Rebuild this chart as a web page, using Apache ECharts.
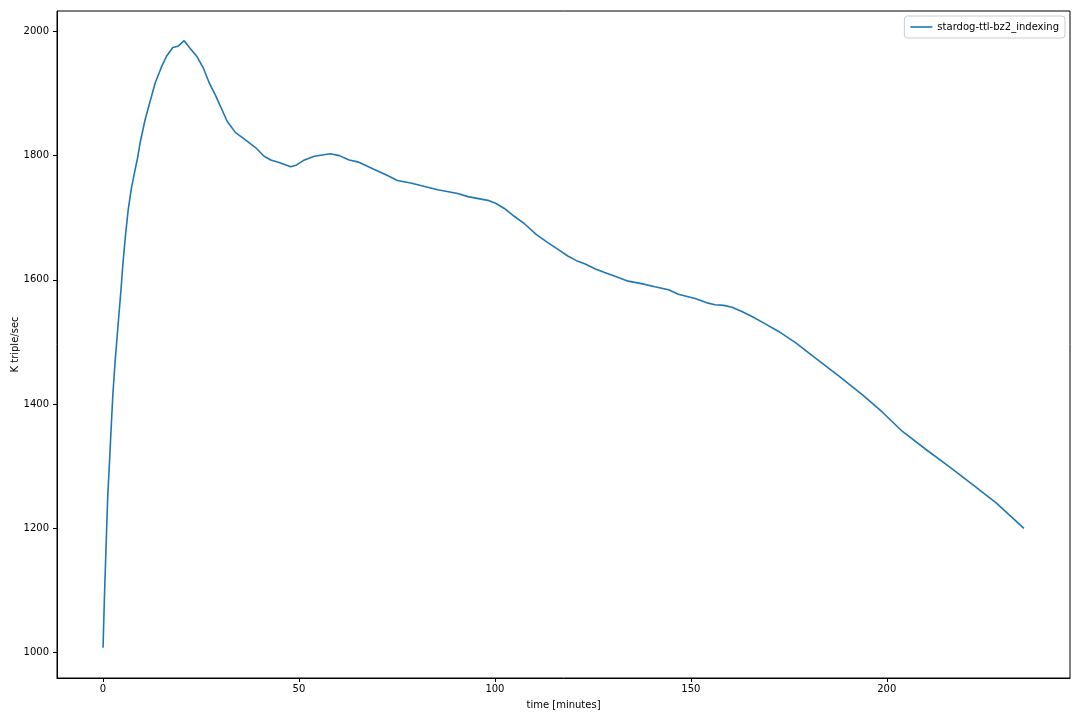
<!DOCTYPE html>
<html>
<head>
<meta charset="utf-8">
<script src="https://cdn.jsdelivr.net/npm/echarts@6/dist/echarts.min.js"></script>
<style>
html,body{margin:0;padding:0;background:#fff;}
#chart{width:1080px;height:720px;}
</style>
</head>
<body>
<div id="chart"></div>
<script>
const seriesName = 'stardog-ttl-bz2_indexing';
const times = [0, 0.36, 0.77, 1.2, 1.64, 2.05, 2.48, 3.1, 3.8, 4.5, 5.1, 5.7, 6.4, 7.2, 8.0, 8.8, 9.5, 10.7, 12.0, 13.3, 15.0, 16.2, 17.8, 19.1, 20.7, 22.2, 23.9, 25.6, 27.1, 28.7, 31.7, 33.8, 36.0, 38.9, 41.1, 42.8, 44.9, 47.9, 49.4, 51.1, 53.9, 58.0, 60.3, 62.8, 65.0, 69.1, 72.6, 75.1, 78.5, 85.4, 90.5, 93.1, 98.2, 100.3, 102.4, 105.0, 107.6, 110.6, 113.5, 116.1, 118.7, 120.8, 122.9, 125.5, 128.0, 131.5, 134.0, 137.4, 140.8, 144.3, 146.8, 151.1, 154.1, 156.2, 158.4, 160.5, 163.0, 165.6, 168.2, 172.4, 176.7, 181.8, 187.8, 193.8, 198.9, 204.0, 210.0, 216.0, 222.0, 227.9, 235.0];
const rates = [1008, 1091, 1171, 1252, 1306, 1359, 1413, 1470, 1525, 1578, 1628, 1670, 1712, 1746, 1772, 1796, 1822, 1857, 1887, 1917, 1944, 1960, 1974, 1976, 1985, 1973, 1960, 1941, 1917, 1897, 1855, 1837, 1827, 1813, 1799, 1793, 1789, 1782, 1785, 1792, 1799, 1803, 1800, 1793, 1790, 1778, 1768, 1760, 1756, 1745, 1739, 1734, 1728, 1723, 1715, 1702, 1690, 1673, 1660, 1649, 1638, 1631, 1626, 1618, 1612, 1604, 1598, 1594, 1589, 1584, 1577, 1570, 1563, 1560, 1559, 1556, 1549, 1541, 1532, 1517, 1499, 1474, 1445, 1415, 1387, 1356, 1327, 1299, 1270, 1241, 1200];
const xTicks = [0, 50, 100, 150, 200];
const yTicks = [1000, 1200, 1400, 1600, 1800, 2000];

const points = times.map((t, i) => [t, rates[i]]);
const font = 'DejaVu Sans';
const chart = echarts.init(document.getElementById('chart'), null, {renderer: 'canvas'});
chart.setOption({
  animation: false,
  backgroundColor: '#fff',
  textStyle: {fontFamily: font},
  grid: {left: 57, right: 10, top: 11, bottom: 42, containLabel: false, outerBoundsMode: 'none', show: true, borderColor: '#000', borderWidth: 1, backgroundColor: 'transparent'},
  legend: {
    top: 16, right: 15,
    data: [{name: seriesName, icon: 'rect'}],
    itemWidth: 22, itemHeight: 1.6, itemGap: 6,
    padding: [6, 6, 6, 6],
    borderColor: '#ccc', borderWidth: 1, borderRadius: 3,
    backgroundColor: '#fff',
    textStyle: {fontFamily: font, fontSize: 10, color: '#000'}
  },
  xAxis: {
    type: 'value', min: -11.75, max: 246.75,
    name: 'time [minutes]', nameLocation: 'middle', nameGap: 22, nameMoveOverlap: false,
    nameTextStyle: {fontFamily: font, fontSize: 10, color: '#000'},
    axisLine: {show: true, onZero: false, lineStyle: {color: '#000', width: 1}},
    axisTick: {show: true, customValues: xTicks, length: 4, inside: false, lineStyle: {color: '#000'}},
    axisLabel: {customValues: xTicks, fontFamily: font, fontSize: 10, color: '#000', margin: 6, formatter: v => String(v)},
    splitLine: {show: false}
  },
  yAxis: {
    type: 'value', min: 959.2, max: 2032.8,
    name: 'K triple/sec', nameLocation: 'middle', nameGap: 37, nameRotate: 90, nameMoveOverlap: false,
    nameTextStyle: {fontFamily: font, fontSize: 10, color: '#000'},
    axisLine: {show: true, onZero: false, lineStyle: {color: '#000', width: 1}},
    axisTick: {show: true, customValues: yTicks, length: 4, inside: false, lineStyle: {color: '#000'}},
    axisLabel: {customValues: yTicks, fontFamily: font, fontSize: 10, color: '#000', margin: 8, formatter: v => String(v)},
    splitLine: {show: false}
  },
  series: [{
    name: seriesName,
    type: 'line',
    data: points,
    showSymbol: false,
    symbol: 'none',
    lineStyle: {color: '#1f77b4', width: 1.6},
    itemStyle: {color: '#1f77b4'}
  }]
});
</script>
</body>
</html>
